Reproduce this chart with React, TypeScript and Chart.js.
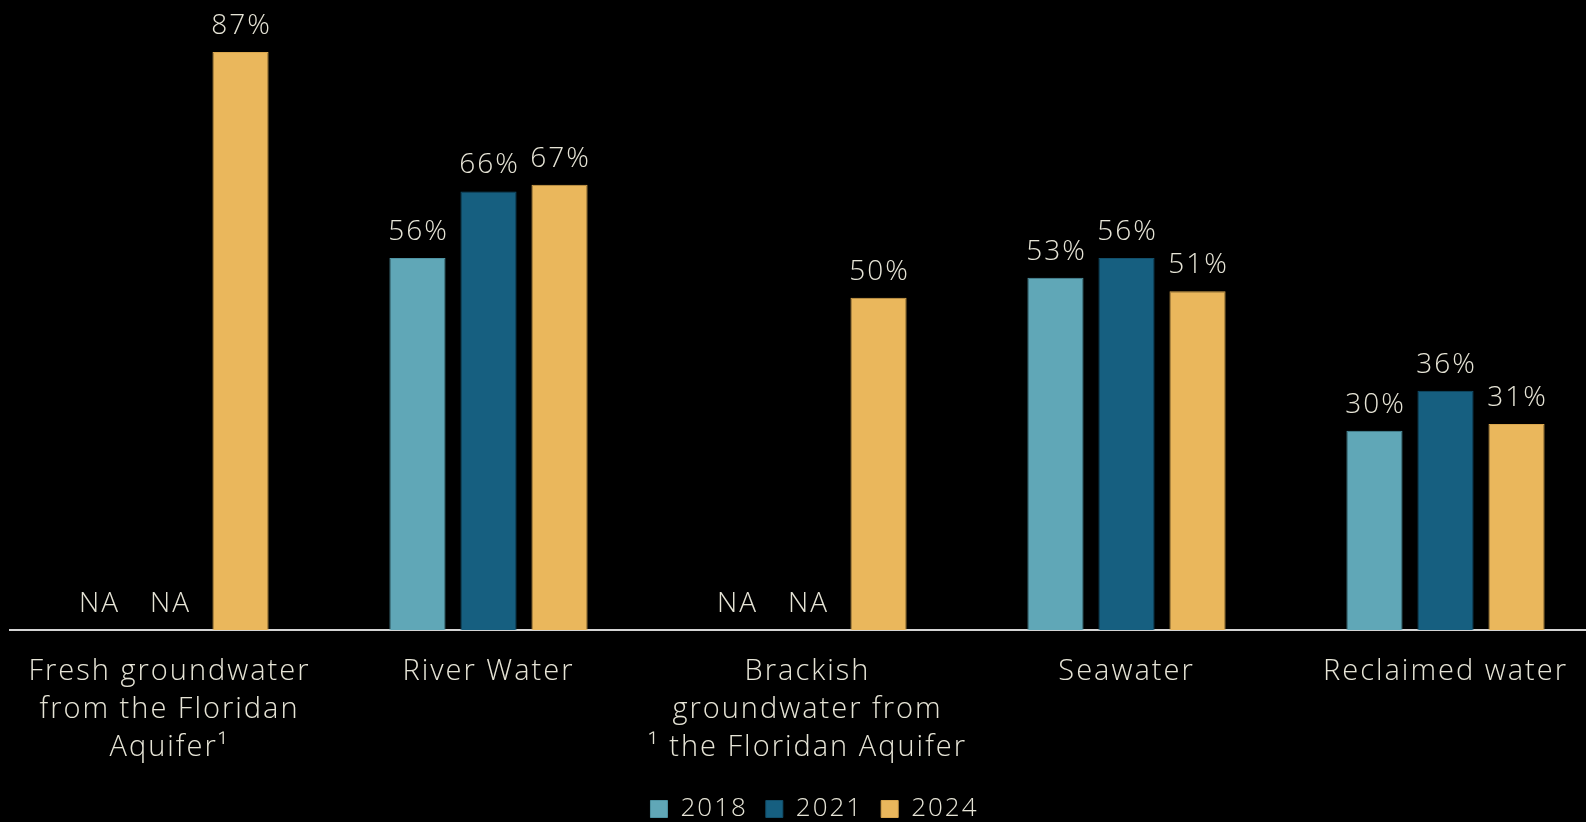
import React, { useEffect, useRef } from "react";
import { Chart, registerables } from "chart.js";

Chart.register(...registerables);

const categories: (string | string[])[] = [
  ["Fresh groundwater", "from the Floridan", "Aquifer\u00B9"],
  "River Water",
  ["Brackish", "groundwater from", "\u00B9 the Floridan Aquifer"],
  "Seawater",
  "Reclaimed water",
];
const seriesNames = ["2018", "2021", "2024"];
const values2018: (number | null)[] = [null, 56, null, 53, 30];
const values2021: (number | null)[] = [null, 66, null, 56, 36];
const values2024: (number | null)[] = [87, 67, 50, 51, 31];
const colors = ["#60A7B7", "#165F80", "#EAB75C"];
const borders = ["#4E93A3", "#124F6B", "#D9A64E"];

const TEXT = "#E6E4D6";
const FONT = "'Open Sans'";
const SPACING = "2px";

const spacingPlugin = {
  id: "letterSpacing",
  beforeLayout(chart: any) {
    (chart.ctx as any).letterSpacing = SPACING;
  },
  afterLayout(chart: any) {
    if (chart.legend) {
      chart.legend.left += 7;
      chart.legend.right += 7;
    }
  },
  beforeDraw(chart: any) {
    (chart.ctx as any).letterSpacing = SPACING;
  },
};

const labelPlugin = {
  id: "barLabels",
  afterDatasetsDraw(chart: any) {
    const ctx = chart.ctx;
    const yScale = chart.scales.y;
    ctx.save();
    ctx.letterSpacing = SPACING;
    ctx.font = `300 28px ${FONT}`;
    ctx.fillStyle = TEXT;
    ctx.textAlign = "center";
    ctx.textBaseline = "alphabetic";
    chart.data.datasets.forEach((ds: any, di: number) => {
      const meta = chart.getDatasetMeta(di);
      meta.data.forEach((el: any, i: number) => {
        const v = ds.data[i];
        const y = v == null ? yScale.getPixelForValue(0) : el.y;
        const text = v == null ? "NA" : `${v}%`;
        ctx.fillText(text, el.x + 1, y - 18);
      });
    });
    ctx.restore();
  },
};

export default function App() {
  const ref = useRef<HTMLCanvasElement | null>(null);
  useEffect(() => {
    if (!ref.current) return;
    const data = [values2018, values2021, values2024];
    const chart = new Chart(ref.current, {
      type: "bar",
      data: {
        labels: categories,
        datasets: seriesNames.map((n, i) => ({
          label: n,
          data: data[i],
          backgroundColor: colors[i],
          borderColor: borders[i],
          borderWidth: 1,
          categoryPercentage: 0.668,
          barPercentage: 0.79,
        })),
      },
      options: {
        animation: false,
        responsive: false,
        maintainAspectRatio: false,
        layout: { padding: { left: 10, right: 15, top: 32, bottom: 0 } },
        plugins: {
          legend: {
            position: "bottom",
            labels: {
              color: TEXT,
              font: { family: FONT, size: 26, weight: "300" as any },
              boxWidth: 17,
              boxHeight: 17,
              padding: 18,
            },
          },
          tooltip: { enabled: false },
        },
        scales: {
          x: {
            grid: { display: false, drawTicks: false },
            border: { display: true, color: "#D4D4D4", width: 2 },
            ticks: {
              color: TEXT,
              font: { family: FONT, size: 29, weight: "300" as any, lineHeight: 1.3 },
              padding: 23,
              maxRotation: 0,
              autoSkip: false,
            },
            afterFit: (scale: any) => {
              scale.height = 148;
            },
          },
          y: {
            display: false,
            min: 0,
            max: 90,
          },
        },
      },
      plugins: [spacingPlugin, labelPlugin],
    });
    return () => chart.destroy();
  }, []);
  return (
    <div
      style={{
        position: "fixed",
        left: 0,
        top: 0,
        width: 1586,
        height: 822,
        overflow: "hidden",
        background: "#000",
      }}
    >
      <canvas ref={ref} width={1620} height={832} style={{ display: "block" }} />
    </div>
  );
}
